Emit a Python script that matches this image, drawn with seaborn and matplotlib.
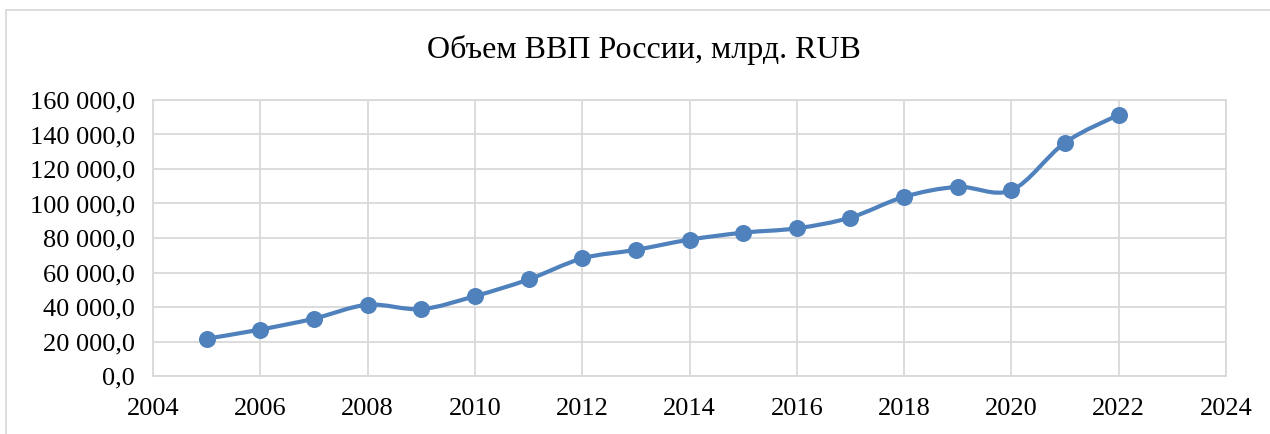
import matplotlib
matplotlib.use("Agg")
import matplotlib.pyplot as plt
import seaborn as sns
import numpy as np
import pandas as pd
from matplotlib.path import Path
from matplotlib.patches import PathPatch, Rectangle
from matplotlib.ticker import FuncFormatter, MultipleLocator

# GDP of Russia, billion RUB
years = [2005, 2006, 2007, 2008, 2009, 2010, 2011, 2012, 2013,
         2014, 2015, 2016, 2017, 2018, 2019, 2020, 2021, 2022]
gdp = [21610, 26917, 33248, 41277, 38807, 46309, 55967, 68164, 73134,
       79030, 83087, 85616, 91843, 103862, 109608, 107658, 135295, 151455]

title = "Объем ВВП России, млрд. RUB"
line_color = "#4F81BD"
grid_color = "#D9D9D9"

sns.set_theme(style="white")
plt.rcParams["font.family"] = ["Liberation Serif", "DejaVu Serif"]

df = pd.DataFrame({"year": years, "gdp": gdp})

fig = plt.figure(figsize=(12.7, 4.34), dpi=100)
ax = fig.add_axes([153 / 1270, 1 - 376 / 434, (1226 - 153) / 1270, (376 - 100) / 434])

# smoothed connecting curve (cubic Bezier segments, Catmull-Rom style)
x = np.asarray(years, dtype=float)
y = np.asarray(gdp, dtype=float)
n = len(x)
verts = [(x[0], y[0])]
codes = [Path.MOVETO]
for i in range(n - 1):
    xp, yp = (x[i - 1], y[i - 1]) if i > 0 else (x[i], y[i])
    xn2, yn2 = (x[i + 2], y[i + 2]) if i + 2 < n else (x[i + 1], y[i + 1])
    c1 = (x[i] + (x[i + 1] - xp) / 6, y[i] + (y[i + 1] - yp) / 6)
    c2 = (x[i + 1] - (xn2 - x[i]) / 6, y[i + 1] - (yn2 - y[i]) / 6)
    verts += [c1, c2, (x[i + 1], y[i + 1])]
    codes += [Path.CURVE4] * 3
ax.add_patch(PathPatch(Path(verts, codes), fill=False, edgecolor=line_color,
                       lw=3.0, capstyle="round", joinstyle="round", zorder=3))

sns.scatterplot(data=df, x="year", y="gdp", ax=ax, color=line_color, s=150,
                edgecolor=line_color, linewidth=0, zorder=4, legend=False)

ax.set_xlim(2004, 2024)
ax.set_ylim(0, 160000)
ax.xaxis.set_major_locator(MultipleLocator(2))
ax.yaxis.set_major_locator(MultipleLocator(20000))
ax.yaxis.set_major_formatter(FuncFormatter(
    lambda v, p: f"{v:,.1f}".replace(",", " ").replace(".", ",")))
ax.xaxis.set_major_formatter(FuncFormatter(lambda v, p: f"{int(v)}"))

ax.grid(True, color=grid_color, lw=1.3)
ax.set_axisbelow(True)
for s in ax.spines.values():
    s.set_color(grid_color)
    s.set_linewidth(1.3)
ax.tick_params(axis="both", length=0, labelsize=19, colors="black")
ax.tick_params(axis="y", pad=13)
ax.tick_params(axis="x", pad=16)
ax.set_xlabel("")
ax.set_ylabel("")

fig.text(0.507, 1 - 50 / 434, title, ha="center", va="center", fontsize=23,
         color="black")

# chart frame
fig.patches.append(Rectangle((6 / 1270, -0.2), 1.2, 1.2 - 10 / 434,
                             transform=fig.transFigure, fill=False,
                             edgecolor=grid_color, lw=1.3))

fig.savefig("out.png", dpi=100, facecolor="white")
